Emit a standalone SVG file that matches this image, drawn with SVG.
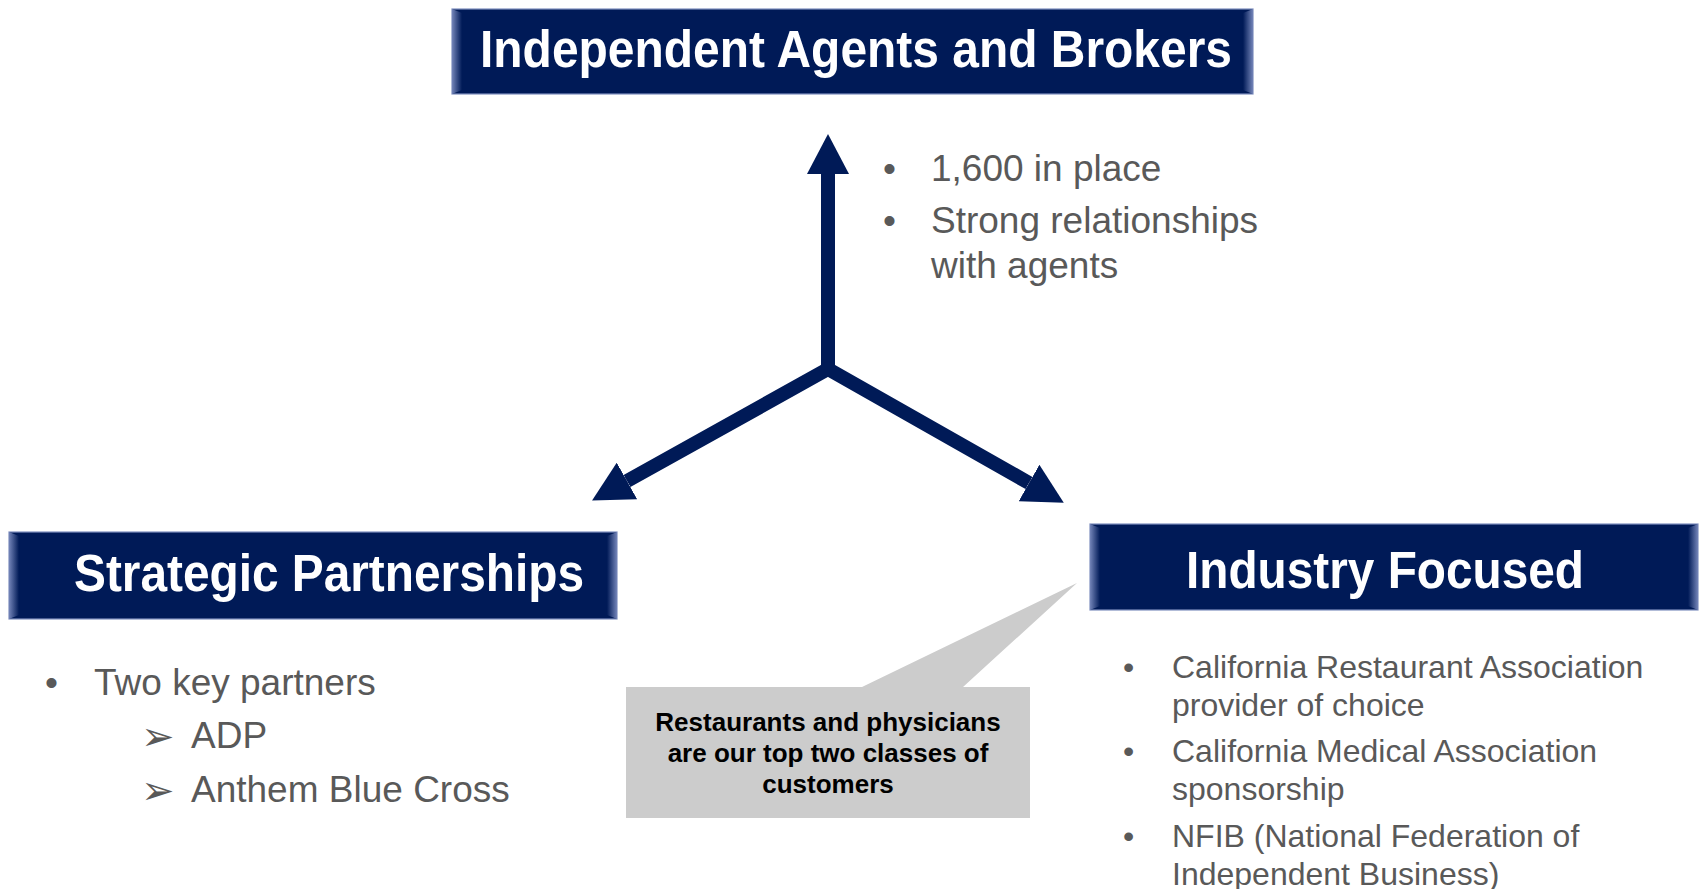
<svg xmlns="http://www.w3.org/2000/svg" width="1700" height="889" viewBox="0 0 1700 889">
<defs>
<linearGradient id="bevL" x1="0" y1="0" x2="1" y2="0"><stop offset="0" stop-color="#7384b8"/><stop offset="1" stop-color="#001a57"/></linearGradient>
<linearGradient id="bevR" x1="1" y1="0" x2="0" y2="0"><stop offset="0" stop-color="#7384b8"/><stop offset="1" stop-color="#001a57"/></linearGradient>
<marker id="ah" markerUnits="userSpaceOnUse" markerWidth="40" markerHeight="42" viewBox="0 0 40 42" refX="0" refY="21" orient="auto-start-reverse"><path d="M0,0 L40,21 L0,42 Z" fill="#001a57"/></marker>
<style>
.box{fill:#001a57;stroke:#7f8fbf;stroke-width:1.2}
.hdr{font-family:"Liberation Sans",Arial,sans-serif;font-weight:bold;font-size:51px;fill:#ffffff}
.txt{font-family:"Liberation Sans",Arial,sans-serif;font-size:37px;fill:#595959}
.txs{font-family:"Liberation Sans",Arial,sans-serif;font-size:32px;fill:#595959}
.arw{font-family:"DejaVu Sans",sans-serif;font-size:40px;fill:#595959}
.call{font-family:"Liberation Sans",Arial,sans-serif;font-weight:bold;font-size:26px;fill:#000000;text-anchor:middle}
.conn{fill:none;stroke:#001a57;stroke-width:14}
</style>
</defs>
<rect width="1700" height="889" fill="#ffffff"/>
<g id="connectors">
<path class="conn" d="M828,369 L828,174" marker-end="url(#ah)"/>
<path class="conn" d="M627,481 L828,369 L1029,483" stroke-linejoin="miter" marker-start="url(#ah)" marker-end="url(#ah)"/>
</g>
<g id="node-agents">
<rect class="box" x="452" y="9" width="801" height="85"/>
<polygon points="452,9 462,13 462,90 452,94" fill="url(#bevL)"/>
<polygon points="1253,9 1243,13 1243,90 1253,94" fill="url(#bevR)"/>
<text class="hdr" x="480" y="67" textLength="752" lengthAdjust="spacingAndGlyphs">Independent Agents and Brokers</text>
</g>
<g id="notes-agents">
<text class="txt" x="883" y="181">•</text>
<text class="txt" x="931" y="181">1,600 in place</text>
<text class="txt" x="883" y="233">•</text>
<text class="txt" x="931" y="233">Strong relationships</text>
<text class="txt" x="931" y="278">with agents</text>
</g>
<g id="node-strategic">
<rect class="box" x="9" y="532" width="608" height="87"/>
<polygon points="9,532 19,536 19,615 9,619" fill="url(#bevL)"/>
<polygon points="617,532 607,536 607,615 617,619" fill="url(#bevR)"/>
<text class="hdr" x="74" y="591" textLength="510" lengthAdjust="spacingAndGlyphs">Strategic Partnerships</text>
</g>
<g id="notes-strategic">
<text class="txt" x="45" y="695">•</text>
<text class="txt" x="94" y="695">Two key partners</text>
<text class="arw" x="141" y="750">➢</text>
<text class="txt" x="191" y="748">ADP</text>
<text class="arw" x="141" y="804">➢</text>
<text class="txt" x="191" y="802">Anthem Blue Cross</text>
</g>
<g id="node-industry">
<rect class="box" x="1090" y="524" width="608" height="86"/>
<polygon points="1090,524 1100,528 1100,606 1090,610" fill="url(#bevL)"/>
<polygon points="1698,524 1688,528 1688,606 1698,610" fill="url(#bevR)"/>
<text class="hdr" x="1186" y="588" textLength="398" lengthAdjust="spacingAndGlyphs">Industry Focused</text>
</g>
<g id="notes-industry">
<text class="txs" x="1123" y="678">•</text>
<text class="txs" x="1172" y="678">California Restaurant Association</text>
<text class="txs" x="1172" y="716">provider of choice</text>
<text class="txs" x="1123" y="762">•</text>
<text class="txs" x="1172" y="762">California Medical Association</text>
<text class="txs" x="1172" y="800">sponsorship</text>
<text class="txs" x="1123" y="847">•</text>
<text class="txs" x="1172" y="847">NFIB (National Federation of</text>
<text class="txs" x="1172" y="885">Independent Business)</text>
</g>
<g id="callout">
<path d="M626,687 L862,687 L1077,583 L963,687 L1030,687 L1030,818 L626,818 Z" fill="#cccccc"/>
<text class="call" x="828" y="731">Restaurants and physicians</text>
<text class="call" x="828" y="762">are our top two classes of</text>
<text class="call" x="828" y="793">customers</text>
</g>
</svg>
